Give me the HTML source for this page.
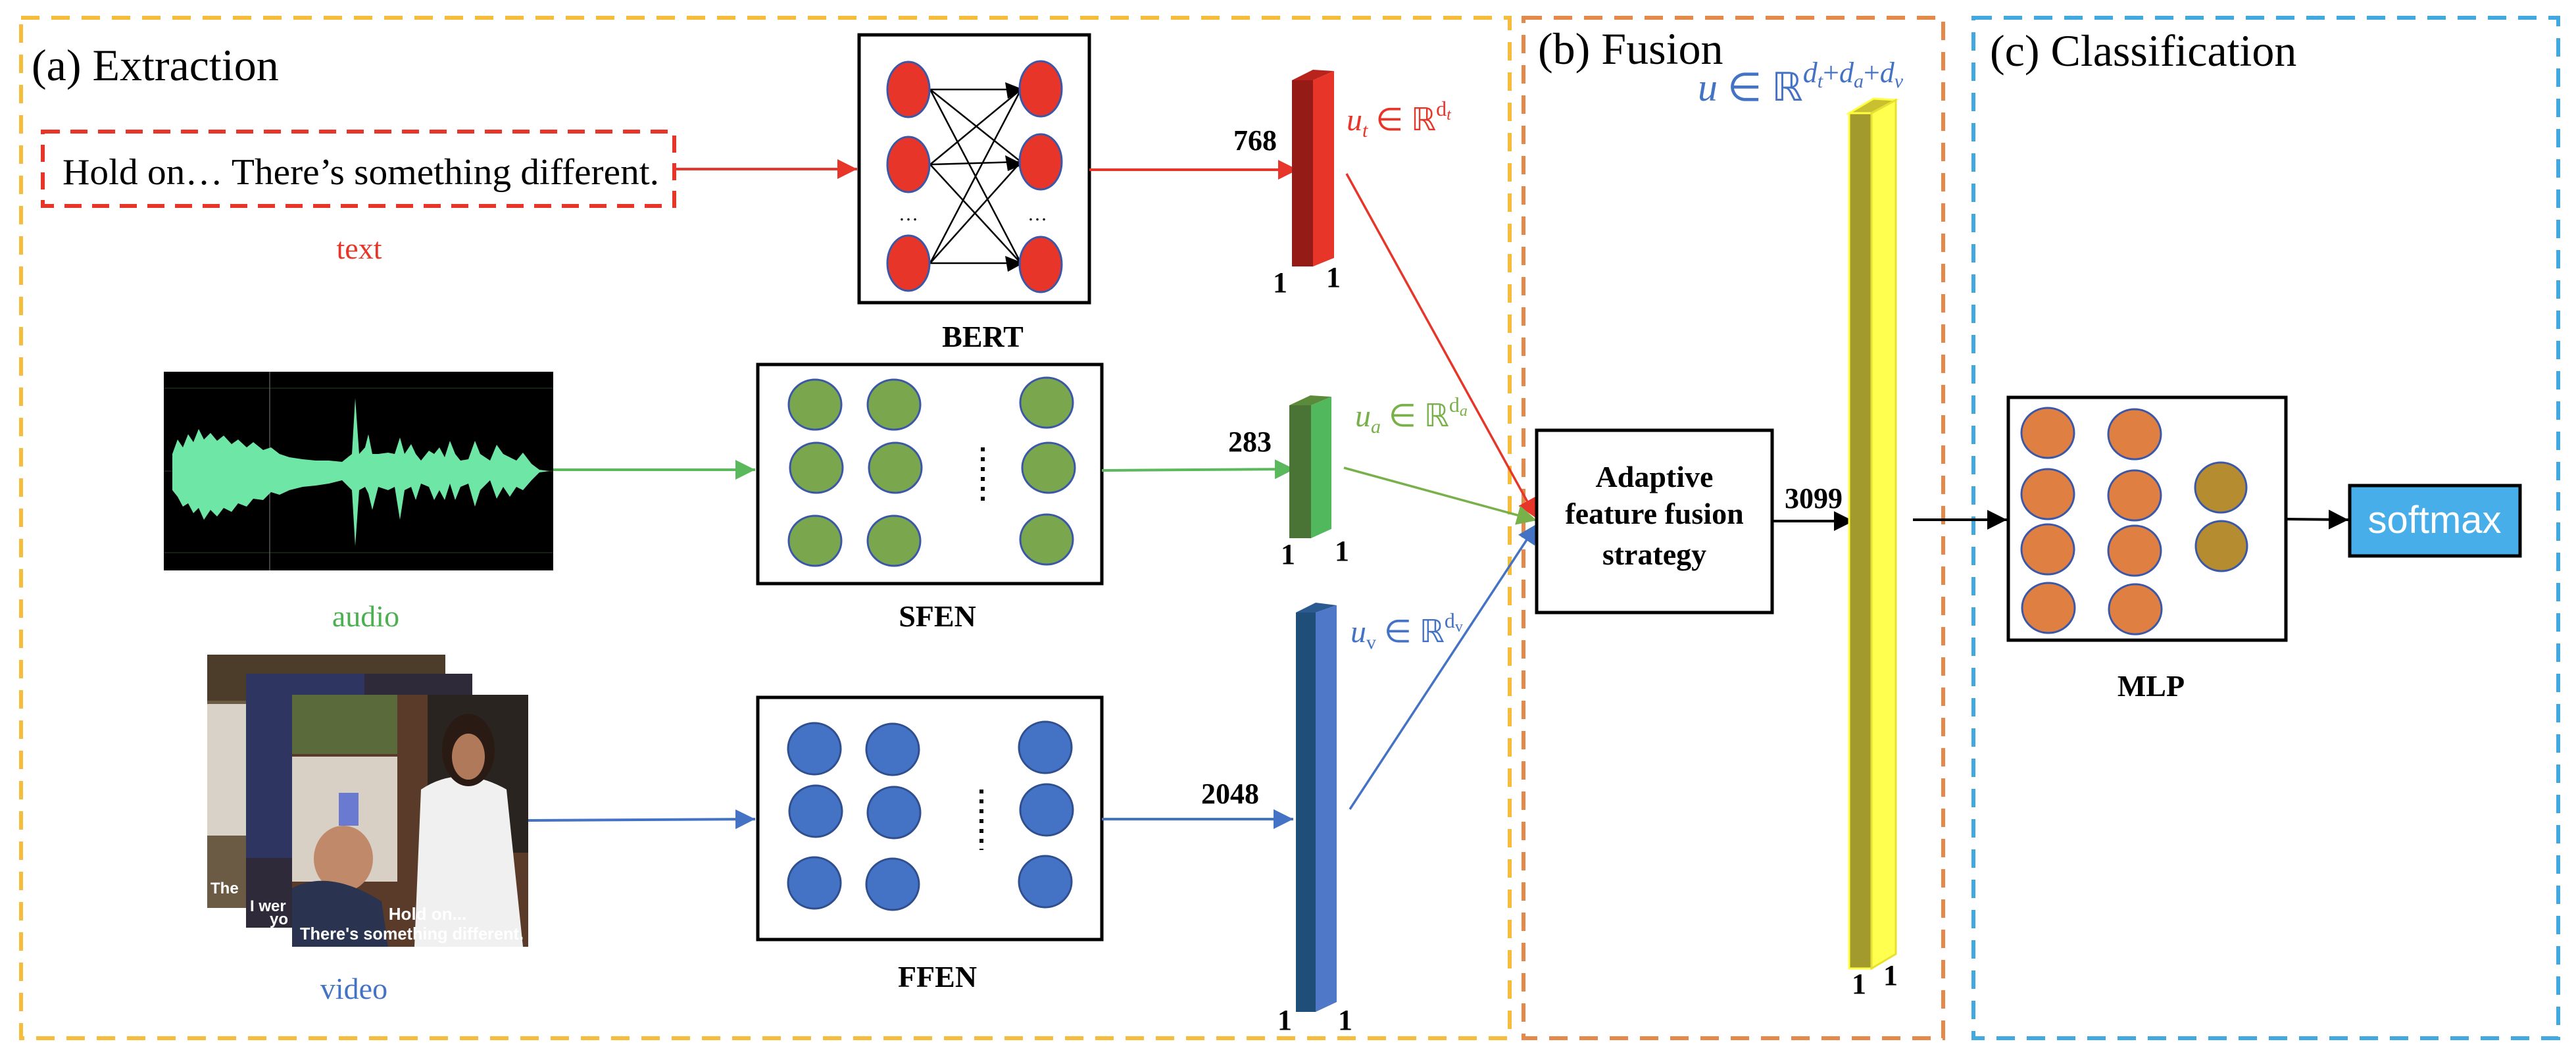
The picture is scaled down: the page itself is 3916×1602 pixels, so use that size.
<!DOCTYPE html>
<html><head><meta charset="utf-8"><style>
html,body{margin:0;padding:0;background:#fff;}
svg{display:block;}
.serif{font-family:"Liberation Serif",serif;}
</style></head><body>
<svg width="3916" height="1602" viewBox="0 0 3916 1602" xmlns="http://www.w3.org/2000/svg">
<defs>
<marker id="ah_r" viewBox="0 0 10 10" refX="10" refY="5" markerWidth="30" markerHeight="30" markerUnits="userSpaceOnUse" orient="auto"><path d="M0,0L10,5L0,10z" fill="#e8352a"/></marker>
<marker id="ah_g" viewBox="0 0 10 10" refX="10" refY="5" markerWidth="30" markerHeight="30" markerUnits="userSpaceOnUse" orient="auto"><path d="M0,0L10,5L0,10z" fill="#5cb85c"/></marker>
<marker id="ah_gg" viewBox="0 0 10 10" refX="10" refY="5" markerWidth="30" markerHeight="30" markerUnits="userSpaceOnUse" orient="auto"><path d="M0,0L10,5L0,10z" fill="#78b04a"/></marker>
<marker id="ah_b" viewBox="0 0 10 10" refX="10" refY="5" markerWidth="30" markerHeight="30" markerUnits="userSpaceOnUse" orient="auto"><path d="M0,0L10,5L0,10z" fill="#4472c4"/></marker>
<marker id="ah_k" viewBox="0 0 10 10" refX="10" refY="5" markerWidth="30" markerHeight="30" markerUnits="userSpaceOnUse" orient="auto"><path d="M0,0L10,5L0,10z" fill="#000"/></marker>
</defs>

<rect x="32" y="27" width="2263" height="1551" fill="none" stroke="#f5bd3b" stroke-width="6" stroke-dasharray="28,18"/>
<rect x="2316" y="27" width="638" height="1551" fill="none" stroke="#e5894a" stroke-width="6" stroke-dasharray="28,18"/>
<rect x="3000" y="27" width="889" height="1551" fill="none" stroke="#41a8e0" stroke-width="6" stroke-dasharray="28,18"/>

<text x="48" y="122" class="serif" font-size="68">(a) Extraction</text>
<text x="2338" y="97" class="serif" font-size="68">(b) Fusion</text>
<text x="3025" y="100" class="serif" font-size="68">(c) Classification</text>

<rect x="65" y="200" width="960" height="113" fill="none" stroke="#e8352a" stroke-width="6" stroke-dasharray="26,16"/>
<text x="95" y="280" class="serif" font-size="56" textLength="907" lengthAdjust="spacingAndGlyphs">Hold on… There’s something different.</text>
<text x="546" y="393" class="serif" font-size="46" fill="#e8352a" text-anchor="middle">text</text>
<line x1="1025" y1="257" x2="1303" y2="257" stroke="#e8352a" stroke-width="4" marker-end="url(#ah_r)"/>

<!-- BERT -->
<rect x="1306" y="53" width="350" height="407" fill="#fff" stroke="#000" stroke-width="5"/>
<g stroke="#000" stroke-width="2.5">
<line x1="1414" y1="136" x2="1552" y2="136"/><line x1="1414" y1="136" x2="1552" y2="246"/><line x1="1414" y1="136" x2="1552" y2="400"/>
<line x1="1414" y1="250" x2="1552" y2="136"/><line x1="1414" y1="250" x2="1552" y2="246"/><line x1="1414" y1="250" x2="1552" y2="400"/>
<line x1="1414" y1="400" x2="1552" y2="136"/><line x1="1414" y1="400" x2="1552" y2="246"/><line x1="1414" y1="400" x2="1552" y2="400"/>
</g>
<g fill="#000"><path d="M1528,125 L1556,136 L1532,150z"/><path d="M1528,236 L1556,250 L1532,260z"/><path d="M1528,389 L1556,400 L1532,413z"/></g>
<g fill="#e8352a" stroke="#3b57a8" stroke-width="3">
<ellipse cx="1381" cy="136" rx="32" ry="42"/><ellipse cx="1381" cy="250" rx="32" ry="42"/><ellipse cx="1381" cy="400" rx="32" ry="42"/>
<ellipse cx="1582" cy="135" rx="32" ry="42"/><ellipse cx="1582" cy="246" rx="32" ry="42"/><ellipse cx="1582" cy="402" rx="32" ry="42"/>
</g>
<text x="1381" y="335" class="serif" font-size="30" text-anchor="middle">…</text>
<text x="1577" y="335" class="serif" font-size="30" text-anchor="middle">…</text>
<text x="1494" y="527" class="serif" font-size="46" font-weight="bold" text-anchor="middle">BERT</text>
<line x1="1656" y1="258" x2="1973" y2="258" stroke="#e8352a" stroke-width="4" marker-end="url(#ah_r)"/>

<polygon points="1964,122 1996,122 2028,108 1996,106" fill="#b8231b"/>
<rect x="1964" y="122" width="32" height="283" fill="#951c16"/>
<polygon points="1996,122 2028,108 2028,392 1996,405" fill="#e8352a"/>
<text x="1908" y="228" class="serif" font-size="44" font-weight="bold" text-anchor="middle">768</text>
<text x="1946" y="444" class="serif" font-size="44" font-weight="bold" text-anchor="middle">1</text>
<text x="2027" y="436" class="serif" font-size="44" font-weight="bold" text-anchor="middle">1</text>
<text x="2047" y="198" class="serif" font-size="48" fill="#e8352a"><tspan font-style="italic">u</tspan><tspan font-size="30" font-style="italic" dy="10">t</tspan><tspan dy="-10"> ∈ ℝ</tspan><tspan font-size="32" dy="-22">d</tspan><tspan font-size="24" font-style="italic" dy="6">t</tspan></text>

<!-- audio -->
<rect x="249" y="565" width="592" height="302" fill="#000"/>
<g stroke="#1a2a1a" stroke-width="1.5">
<line x1="249" y1="590" x2="841" y2="590"/><line x1="249" y1="840" x2="841" y2="840"/>
<line x1="249" y1="716" x2="841" y2="716"/>
</g>
<line x1="410" y1="565" x2="410" y2="867" stroke="#555" stroke-width="1.5"/>
<path fill="#6ee6a6" d="M262,690 L270,668 L278,680 L286,660 L294,672 L302,652 L310,668 L320,658 L330,670 L340,662 L352,675 L362,668 L375,680 L385,672 L400,684 L412,680 L425,690 L440,695 L460,698 L480,700 L500,700 L520,702 L535,690 L540,605 L546,690 L555,680 L560,660 L566,690 L575,690 L590,688 L600,690 L608,665 L615,690 L625,675 L632,690 L640,700 L652,685 L660,690 L668,680 L676,695 L684,670 L692,690 L700,700 L712,698 L722,670 L730,690 L745,700 L755,676 L765,690 L775,695 L785,700 L795,688 L808,705 L820,714 L835,716
L820,718 L808,730 L795,745 L785,740 L775,755 L765,740 L755,758 L745,730 L730,745 L722,770 L712,735 L700,740 L692,760 L684,735 L676,760 L668,745 L660,760 L652,740 L640,735 L632,760 L625,740 L615,745 L608,790 L600,740 L590,745 L575,740 L566,775 L560,750 L555,740 L546,745 L540,830 L535,745 L520,730 L500,735 L480,738 L460,740 L440,745 L425,752 L412,748 L400,760 L385,758 L375,770 L362,765 L352,778 L340,772 L330,785 L320,775 L310,790 L302,772 L294,780 L286,765 L278,770 L270,755 L262,745 z"/>
<text x="556" y="952" class="serif" font-size="46" fill="#4caf50" text-anchor="middle">audio</text>
<line x1="841" y1="714" x2="1148" y2="714" stroke="#5cb85c" stroke-width="4" marker-end="url(#ah_g)"/>

<rect x="1152" y="554" width="523" height="333" fill="#fff" stroke="#000" stroke-width="5"/>
<g fill="#7aa64e" stroke="#3b57a8" stroke-width="3">
<ellipse cx="1239" cy="615" rx="40" ry="38"/><ellipse cx="1359" cy="615" rx="40" ry="38"/><ellipse cx="1591" cy="612" rx="40" ry="38"/>
<ellipse cx="1241" cy="711" rx="40" ry="38"/><ellipse cx="1361" cy="711" rx="40" ry="38"/><ellipse cx="1594" cy="711" rx="40" ry="38"/>
<ellipse cx="1239" cy="822" rx="40" ry="38"/><ellipse cx="1359" cy="822" rx="40" ry="38"/><ellipse cx="1591" cy="820" rx="40" ry="38"/>
</g>
<line x1="1494" y1="680" x2="1494" y2="770" stroke="#000" stroke-width="6" stroke-dasharray="6,9"/>
<text x="1425" y="952" class="serif" font-size="46" font-weight="bold" text-anchor="middle">SFEN</text>
<line x1="1675" y1="715" x2="1968" y2="713" stroke="#5cb85c" stroke-width="4" marker-end="url(#ah_g)"/>

<polygon points="1960,616 1993,616 2024,603 1992,601" fill="#5a8a3a"/>
<rect x="1960" y="616" width="33" height="202" fill="#4a7436"/>
<polygon points="1993,616 2024,603 2024,804 1993,818" fill="#52b85e"/>
<text x="1900" y="686" class="serif" font-size="44" font-weight="bold" text-anchor="middle">283</text>
<text x="1958" y="857" class="serif" font-size="44" font-weight="bold" text-anchor="middle">1</text>
<text x="2040" y="852" class="serif" font-size="44" font-weight="bold" text-anchor="middle">1</text>
<text x="2060" y="648" class="serif" font-size="48" fill="#78b04a"><tspan font-style="italic">u</tspan><tspan font-size="30" font-style="italic" dy="10">a</tspan><tspan dy="-10"> ∈ ℝ</tspan><tspan font-size="32" dy="-22">d</tspan><tspan font-size="24" font-style="italic" dy="6">a</tspan></text>

<!-- video frames -->
<rect x="315" y="995" width="362" height="385" fill="#6b5a44"/>
<rect x="315" y="1070" width="120" height="200" fill="#d9d2c8"/>
<rect x="315" y="995" width="362" height="70" fill="#4c3d2a"/>
<text x="320" y="1358" font-family="Liberation Sans,sans-serif" font-weight="bold" font-size="24" fill="#fff">The</text>
<rect x="374" y="1024" width="344" height="386" fill="#2e2a3a"/>
<rect x="374" y="1024" width="180" height="280" fill="#2d3560"/>
<rect x="530" y="1250" width="60" height="160" fill="#e0b84a"/>
<text x="380" y="1385" font-family="Liberation Sans,sans-serif" font-weight="bold" font-size="24" fill="#fff">I wer</text>
<text x="410" y="1405" font-family="Liberation Sans,sans-serif" font-weight="bold" font-size="24" fill="#fff">yo</text>
<rect x="444" y="1056" width="359" height="383" fill="#5a3a28"/>
<rect x="444" y="1056" width="160" height="90" fill="#5a6a3a"/>
<rect x="444" y="1150" width="160" height="190" fill="#d8d0c4"/>
<rect x="515" y="1205" width="30" height="50" fill="#6a7ad0"/>
<rect x="650" y="1056" width="153" height="240" fill="#2a2420"/>
<ellipse cx="522" cy="1305" rx="45" ry="50" fill="#c08a6a"/>
<path d="M444,1350 Q500,1320 580,1370 L590,1439 L444,1439z" fill="#2a3450"/>
<path d="M640,1200 Q700,1160 770,1200 L795,1439 L630,1439z" fill="#f0f0f0"/>
<ellipse cx="712" cy="1140" rx="40" ry="55" fill="#2a1a14"/>
<ellipse cx="712" cy="1150" rx="25" ry="35" fill="#b07a5a"/>
<text x="650" y="1398" font-family="Liberation Sans,sans-serif" font-weight="bold" font-size="26" fill="#fff" text-anchor="middle">Hold on...</text>
<text x="626" y="1428" font-family="Liberation Sans,sans-serif" font-weight="bold" font-size="26" fill="#fff" text-anchor="middle" textLength="340" lengthAdjust="spacingAndGlyphs">There's something different.</text>
<text x="538" y="1518" class="serif" font-size="46" fill="#4472c4" text-anchor="middle">video</text>
<line x1="803" y1="1247" x2="1148" y2="1245" stroke="#4472c4" stroke-width="4" marker-end="url(#ah_b)"/>

<rect x="1152" y="1060" width="523" height="368" fill="#fff" stroke="#000" stroke-width="5"/>
<g fill="#4472c4" stroke="#2f4f8f" stroke-width="3">
<ellipse cx="1238" cy="1138" rx="40" ry="39"/><ellipse cx="1357" cy="1139" rx="40" ry="39"/><ellipse cx="1589" cy="1136" rx="40" ry="39"/>
<ellipse cx="1240" cy="1233" rx="40" ry="39"/><ellipse cx="1359" cy="1235" rx="40" ry="39"/><ellipse cx="1591" cy="1231" rx="40" ry="39"/>
<ellipse cx="1238" cy="1342" rx="40" ry="39"/><ellipse cx="1357" cy="1344" rx="40" ry="39"/><ellipse cx="1589" cy="1340" rx="40" ry="39"/>
</g>
<line x1="1492" y1="1200" x2="1492" y2="1292" stroke="#000" stroke-width="6" stroke-dasharray="6,9"/>
<text x="1425" y="1500" class="serif" font-size="46" font-weight="bold" text-anchor="middle">FFEN</text>
<line x1="1675" y1="1245" x2="1966" y2="1245" stroke="#4472c4" stroke-width="4" marker-end="url(#ah_b)"/>

<polygon points="1970,931 2000,931 2032,920 2000,916" fill="#2a5a90"/>
<rect x="1970" y="931" width="30" height="607" fill="#1f4e79"/>
<polygon points="2000,931 2032,920 2032,1523 2000,1538" fill="#4f78c8"/>
<text x="1870" y="1221" class="serif" font-size="44" font-weight="bold" text-anchor="middle">2048</text>
<text x="1953" y="1565" class="serif" font-size="44" font-weight="bold" text-anchor="middle">1</text>
<text x="2045" y="1565" class="serif" font-size="44" font-weight="bold" text-anchor="middle">1</text>
<text x="2053" y="976" class="serif" font-size="48" fill="#4472c4"><tspan font-style="italic">u</tspan><tspan font-size="30" dy="10">v</tspan><tspan dy="-10"> ∈ ℝ</tspan><tspan font-size="32" dy="-22">d</tspan><tspan font-size="24" dy="6">v</tspan></text>

<line x1="2047" y1="264" x2="2336" y2="788" stroke="#e8352a" stroke-width="3.5" marker-end="url(#ah_r)"/>
<line x1="2043" y1="711" x2="2336" y2="791" stroke="#78b04a" stroke-width="3.5" marker-end="url(#ah_gg)"/>
<line x1="2052" y1="1230" x2="2337" y2="796" stroke="#4472c4" stroke-width="3.5" marker-end="url(#ah_b)"/>

<rect x="2336" y="654" width="358" height="277" fill="#fff" stroke="#000" stroke-width="5"/>
<g class="serif" font-size="46" font-weight="bold" text-anchor="middle">
<text x="2515" y="740">Adaptive</text>
<text x="2515" y="796">feature fusion</text>
<text x="2515" y="858">strategy</text>
</g>
<line x1="2694" y1="792" x2="2818" y2="792" stroke="#000" stroke-width="4" marker-end="url(#ah_k)"/>
<text x="2757" y="772" class="serif" font-size="44" font-weight="bold" text-anchor="middle">3099</text>

<polygon points="2811,172 2845,172 2882,152 2848,150" fill="#c8c030" stroke="#ffff40" stroke-width="3"/>
<rect x="2811" y="172" width="34" height="1300" fill="#a39a2e" stroke="#ffff40" stroke-width="3"/>
<polygon points="2845,172 2882,152 2882,1450 2845,1472" fill="#ffff50" stroke="#e8e030" stroke-width="3"/>
<text x="2826" y="1510" class="serif" font-size="44" font-weight="bold" text-anchor="middle">1</text>
<text x="2874" y="1497" class="serif" font-size="44" font-weight="bold" text-anchor="middle">1</text>
<text x="2581" y="153" font-family="Liberation Serif,serif" font-size="60" fill="#4472c4"><tspan font-style="italic">u</tspan><tspan> ∈ ℝ</tspan><tspan font-size="44" font-style="italic" dy="-28">d</tspan><tspan font-size="30" font-style="italic" dy="8">t</tspan><tspan font-size="44" dy="-8">+</tspan><tspan font-size="44" font-style="italic">d</tspan><tspan font-size="30" font-style="italic" dy="8">a</tspan><tspan font-size="44" dy="-8">+</tspan><tspan font-size="44" font-style="italic">d</tspan><tspan font-size="30" font-style="italic" dy="8">v</tspan></text>

<line x1="2908" y1="790" x2="3051" y2="790" stroke="#000" stroke-width="4" marker-end="url(#ah_k)"/>
<rect x="3053" y="604" width="422" height="369" fill="#fff" stroke="#000" stroke-width="5"/>
<g fill="#e07f42" stroke="#3b57a8" stroke-width="3">
<ellipse cx="3113" cy="658" rx="40" ry="38"/><ellipse cx="3245" cy="660" rx="40" ry="38"/>
<ellipse cx="3113" cy="751" rx="40" ry="38"/><ellipse cx="3245" cy="753" rx="40" ry="38"/>
<ellipse cx="3113" cy="835" rx="40" ry="38"/><ellipse cx="3245" cy="837" rx="40" ry="38"/>
<ellipse cx="3114" cy="924" rx="40" ry="38"/><ellipse cx="3246" cy="926" rx="40" ry="38"/>
</g>
<g fill="#b58c2f" stroke="#3b57a8" stroke-width="3">
<ellipse cx="3376" cy="741" rx="39" ry="38"/><ellipse cx="3377" cy="830" rx="39" ry="38"/>
</g>
<text x="3270" y="1058" class="serif" font-size="46" font-weight="bold" text-anchor="middle">MLP</text>
<line x1="3475" y1="789" x2="3570" y2="790" stroke="#000" stroke-width="4" marker-end="url(#ah_k)"/>
<rect x="3572" y="738" width="259" height="107" fill="#47aeea" stroke="#000" stroke-width="5"/>
<text x="3701" y="810" font-family="Liberation Sans,sans-serif" font-size="58" fill="#fff" text-anchor="middle">softmax</text>
</svg>
</body></html>
